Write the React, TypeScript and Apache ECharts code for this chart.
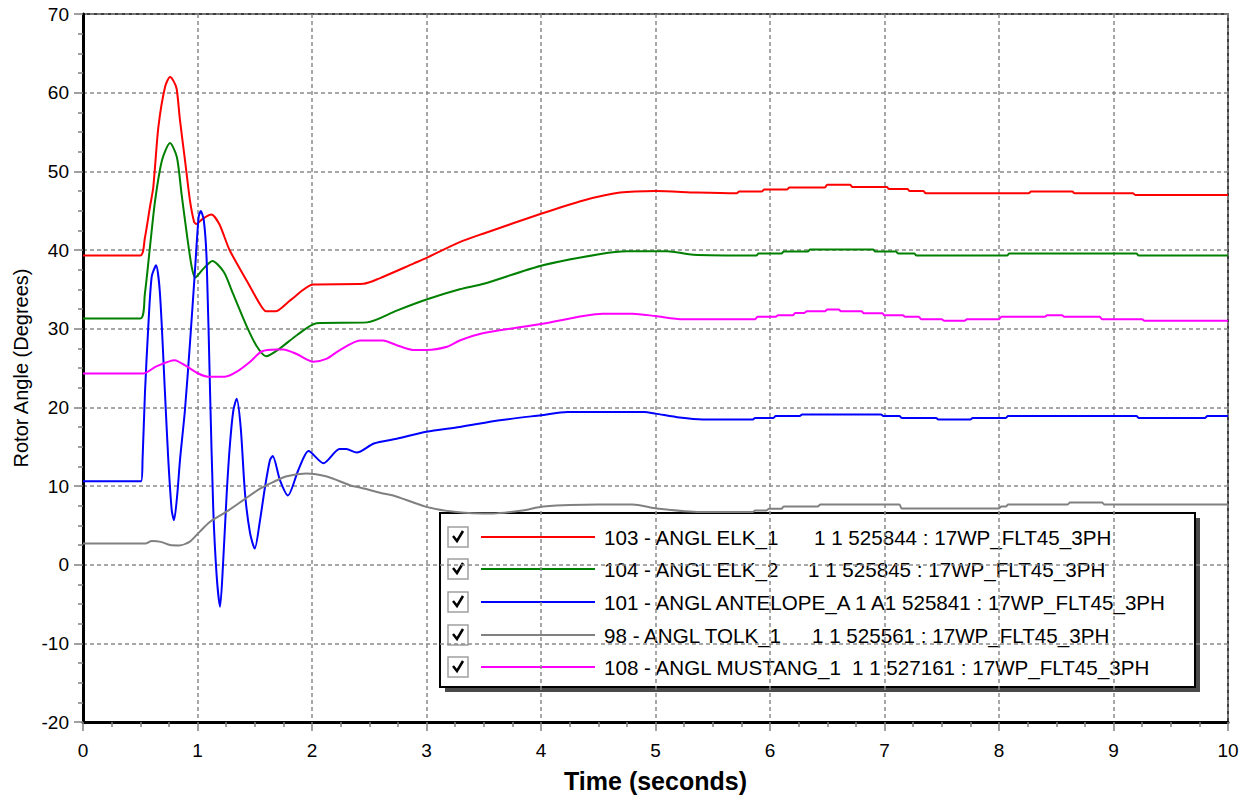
import React, { useEffect, useRef } from "react";
import * as echarts from "echarts";

type Pt = [number, number];

const xTicks = { min: 0, max: 10, interval: 1 };
const yTicks = { min: -20, max: 70, interval: 10 };

const seriesNames = [
  "103 - ANGL ELK_1      1 1 525844 : 17WP_FLT45_3PH",
  "104 - ANGL ELK_2      1 1 525845 : 17WP_FLT45_3PH",
  "101 - ANGL ANTELOPE_A 1 A1 525841 : 17WP_FLT45_3PH",
  "98 - ANGL TOLK_1      1 1 525561 : 17WP_FLT45_3PH",
  "108 - ANGL MUSTANG_1  1 1 527161 : 17WP_FLT45_3PH",
];
const legendLeft = [
  "103 - ANGL ELK_1",
  "104 - ANGL ELK_2",
  "101 - ANGL ANTELOPE_A 1 A1 525841 : 17WP_FLT45_3PH",
  "98 - ANGL TOLK_1",
  "108 - ANGL MUSTANG_1",
];
const legendRight = [
  "1 1 525844 : 17WP_FLT45_3PH",
  "1 1 525845 : 17WP_FLT45_3PH",
  "",
  "1 1 525561 : 17WP_FLT45_3PH",
  "1 1 527161 : 17WP_FLT45_3PH",
];
const legendRightX = [814, 808, 0, 812, 852];
const seriesColors = ["#ff0000", "#008000", "#0000ff", "#808080", "#ff00ff"];

const elk1: Pt[] = [
  [0, 39.3], [0.5, 39.3], [0.54, 41.5], [0.585, 45.5], [0.614, 48.0], [0.658, 55.6],
  [0.716, 60.7], [0.76, 62.0], [0.79, 61.5], [0.818, 60.5], [0.847, 56.5], [0.891, 51.4],
  [0.934, 46.3], [0.97, 43.6], [0.99, 43.3], [1.04, 43.9], [1.12, 44.5], [1.19, 43.3],
  [1.28, 40.0], [1.43, 36.1], [1.55, 33.0], [1.6, 32.2], [1.68, 32.2], [1.81, 33.6],
  [2.01, 35.6], [2.45, 35.7], [2.59, 36.4], [2.89, 38.3], [3.0, 39.0], [3.29, 41.0],
  [3.5, 42.1], [4.0, 44.6], [4.37, 46.3], [4.69, 47.3], [5.0, 47.5], [5.36, 47.3],
  [5.71, 47.2], [5.73, 47.45], [5.93, 47.45], [5.95, 47.7], [6.15, 47.7], [6.17, 47.96],
  [6.48, 47.96], [6.5, 48.3], [6.7, 48.3], [6.72, 48.0], [7.02, 48.0], [7.04, 47.75],
  [7.2, 47.75], [7.22, 47.5], [7.34, 47.5], [7.36, 47.2], [8.26, 47.2], [8.28, 47.45],
  [8.64, 47.45], [8.66, 47.2], [9.17, 47.2], [9.19, 47.0], [10, 47.0],
];

const elk2: Pt[] = [
  [0, 31.3], [0.5, 31.3], [0.54, 34.4], [0.585, 40.4], [0.63, 46.3], [0.69, 51.4],
  [0.76, 53.6], [0.82, 51.8], [0.86, 47.2], [0.906, 42.1], [0.95, 37.8], [0.98, 36.5],
  [1.05, 37.6], [1.13, 38.6], [1.23, 37.2], [1.31, 34.45], [1.43, 30.3], [1.52, 27.7],
  [1.6, 26.5], [1.72, 27.5], [1.87, 29.2], [2.04, 30.7], [2.48, 30.8], [2.74, 32.3],
  [3.0, 33.7], [3.29, 35.0], [3.5, 35.7], [4.0, 38.0], [4.52, 39.5], [4.75, 39.85],
  [5.1, 39.85], [5.33, 39.4], [5.88, 39.3], [5.9, 39.55], [6.1, 39.55], [6.12, 39.8],
  [6.33, 39.8], [6.35, 40.05], [6.9, 40.05], [6.92, 39.8], [7.1, 39.8], [7.12, 39.55],
  [7.26, 39.55], [7.28, 39.3], [8.07, 39.3], [8.09, 39.55], [9.2, 39.55], [9.22, 39.3],
  [10, 39.3],
];

const antelope: Pt[] = [
  [0, 10.6], [0.507, 10.6], [0.52, 13.3], [0.541, 21.8], [0.57, 30.2], [0.6, 36.6],
  [0.638, 38.05], [0.672, 34.5], [0.716, 21.8], [0.745, 13.3], [0.775, 6.9], [0.795, 5.65],
  [0.824, 9.05], [0.847, 13.3], [0.89, 19.6], [0.934, 28.1], [0.978, 37.4], [1.01, 44.2],
  [1.028, 44.95], [1.055, 43.8], [1.08, 38.7], [1.11, 21.8], [1.138, 6.9], [1.168, -1.55],
  [1.197, -5.35], [1.225, 0.6], [1.255, 9.05], [1.284, 15.4], [1.313, 19.6], [1.342, 21.1],
  [1.377, 17.5], [1.415, 9.05], [1.459, 4.0], [1.5, 2.05], [1.546, 5.65], [1.59, 9.9],
  [1.633, 13.3], [1.657, 13.8], [1.72, 10.75], [1.79, 8.8], [1.88, 12.0], [1.97, 14.45],
  [2.1, 12.9], [2.24, 14.7], [2.3, 14.7], [2.39, 14.25], [2.54, 15.4], [2.74, 16.0],
  [3.0, 16.9], [3.29, 17.5], [3.64, 18.35], [4.0, 19.0], [4.23, 19.4], [4.9, 19.4],
  [5.0, 19.2], [5.21, 18.7], [5.41, 18.45], [5.85, 18.45], [5.87, 18.65], [6.03, 18.65],
  [6.05, 18.9], [6.26, 18.9], [6.28, 19.1], [6.97, 19.1], [6.99, 18.9], [7.13, 18.9],
  [7.15, 18.65], [7.45, 18.65], [7.47, 18.45], [7.75, 18.45], [7.77, 18.65], [8.06, 18.65],
  [8.08, 18.9], [9.2, 18.9], [9.22, 18.65], [9.8, 18.65], [9.82, 18.9], [10, 18.9],
];

const tolk: Pt[] = [
  [0, 2.7], [0.55, 2.7], [0.6, 3.0], [0.68, 2.9], [0.76, 2.5], [0.84, 2.45], [0.93, 2.9],
  [1.02, 4.2], [1.11, 5.45], [1.25, 6.7], [1.4, 8.2], [1.55, 9.7], [1.66, 10.5],
  [1.78, 11.25], [1.95, 11.6], [2.13, 11.2], [2.33, 10.1], [2.42, 9.8], [2.62, 9.05],
  [2.71, 8.8], [3.0, 7.35], [3.26, 6.7], [3.58, 6.5], [3.84, 6.9], [4.02, 7.4], [4.5, 7.65],
  [4.8, 7.65], [5.01, 7.15], [5.39, 6.7], [5.85, 6.7], [5.87, 6.9], [5.97, 6.9], [5.99, 7.1],
  [6.1, 7.1], [6.12, 7.4], [6.42, 7.4], [6.44, 7.65], [7.13, 7.65], [7.15, 7.15], [8.0, 7.15],
  [8.02, 7.4], [8.06, 7.4], [8.08, 7.65], [8.6, 7.65], [8.62, 7.9], [8.9, 7.9], [8.92, 7.65],
  [10, 7.65],
];

const mustang: Pt[] = [
  [0, 24.3], [0.527, 24.3], [0.64, 25.2], [0.8, 26.0], [0.906, 25.2], [1.007, 24.3],
  [1.09, 23.9], [1.24, 23.9], [1.34, 24.5], [1.46, 25.8], [1.56, 27.1], [1.69, 27.35],
  [1.75, 27.35], [1.87, 26.75], [2.01, 25.8], [2.13, 26.2], [2.24, 27.25], [2.42, 28.5],
  [2.62, 28.5], [2.74, 27.9], [2.88, 27.3], [3.0, 27.3], [3.18, 27.7], [3.29, 28.5],
  [3.5, 29.45], [4.0, 30.6], [4.37, 31.6], [4.54, 31.9], [4.8, 31.9], [5.0, 31.6],
  [5.24, 31.2], [5.87, 31.2], [5.89, 31.5], [6.05, 31.5], [6.07, 31.7], [6.2, 31.7],
  [6.22, 32.0], [6.3, 32.0], [6.32, 32.2], [6.48, 32.2], [6.5, 32.45], [6.6, 32.45],
  [6.62, 32.2], [6.8, 32.2], [6.82, 31.95], [6.98, 31.95], [7.0, 31.7], [7.16, 31.7],
  [7.18, 31.5], [7.3, 31.5], [7.32, 31.2], [7.5, 31.2], [7.52, 31.0], [7.7, 31.0],
  [7.72, 31.2], [8.0, 31.2], [8.02, 31.5], [8.4, 31.5], [8.42, 31.7], [8.55, 31.7],
  [8.57, 31.5], [8.88, 31.5], [8.9, 31.2], [9.25, 31.2], [9.27, 31.0], [10, 31.0],
];

const seriesData = [elk1, elk2, antelope, tolk, mustang];

const FONT = '"Liberation Sans", Arial, Helvetica, sans-serif';

function buildLegend() {
  const rows = [537, 569, 602, 635, 667];
  const children: any[] = [
    { type: "rect", shape: { x: 445, y: 518, width: 755, height: 174 }, style: { fill: "#4a4a4a" } },
    { type: "rect", shape: { x: 440, y: 513, width: 755, height: 174 }, style: { fill: "#fff", stroke: "#000", lineWidth: 2 } },
  ];
  rows.forEach((ry, i) => {
    children.push({
      type: "rect",
      shape: { x: 448, y: ry - 10, width: 20, height: 20 },
      style: { fill: "#fff", stroke: "#a0a0a0", lineWidth: 1.5 },
    });
    children.push({
      type: "polyline",
      shape: { points: [[453, ry - 1], [457, ry + 4], [463, ry - 6]] },
      style: { stroke: "#000", lineWidth: 2.5, fill: null },
    });
    children.push({
      type: "line",
      shape: { x1: 481, y1: ry, x2: 595, y2: ry },
      style: { stroke: seriesColors[i], lineWidth: 2 },
    });
    children.push({
      type: "text",
      x: 604,
      y: ry,
      style: { text: legendLeft[i], font: `20.6px ${FONT}`, fill: "#000", verticalAlign: "middle", align: "left" },
    });
    if (legendRight[i]) {
      children.push({
        type: "text",
        x: legendRightX[i],
        y: ry,
        style: { text: legendRight[i], font: `20.6px ${FONT}`, fill: "#000", verticalAlign: "middle", align: "left" },
      });
    }
  });
  return [{ type: "group", z: 100, children }];
}

export default function App() {
  const ref = useRef<HTMLDivElement>(null);
  useEffect(() => {
    if (!ref.current) return;
    const chart = echarts.init(ref.current, undefined, { renderer: "svg" });
    const tickStyle = { color: "#808080", width: 1.5 };
    const gridStyle = { color: "#8a8a8a", type: [4, 3] as any, width: 1.5 };
    chart.setOption({
      animation: false,
      backgroundColor: "#fff",
      textStyle: { fontFamily: FONT },
      grid: { left: 83, right: 22, top: 14, bottom: 76, show: true, borderColor: "#000", borderWidth: 1.5, backgroundColor: "#fff" },
      xAxis: {
        type: "value",
        ...xTicks,
        axisLine: { onZero: false, lineStyle: { color: "#000", width: 3 } },
        axisTick: { length: 9, lineStyle: tickStyle },
        minorTick: { show: true, splitNumber: 4, length: 5, lineStyle: tickStyle },
        splitLine: { show: true, lineStyle: gridStyle },
        axisLabel: { fontSize: 19, color: "#000", margin: 19, fontFamily: FONT },
        name: "Time (seconds)",
        nameLocation: "middle",
        nameGap: 46,
        nameTextStyle: { fontSize: 25, fontWeight: "bold", color: "#000", fontFamily: FONT },
      },
      yAxis: {
        type: "value",
        ...yTicks,
        axisLine: { onZero: false, lineStyle: { color: "#000", width: 3 } },
        axisTick: { length: 9, lineStyle: tickStyle },
        minorTick: { show: true, splitNumber: 4, length: 5, lineStyle: tickStyle },
        splitLine: { show: true, lineStyle: gridStyle },
        axisLabel: { fontSize: 19, color: "#000", margin: 14, fontFamily: FONT },
        name: "Rotor Angle (Degrees)",
        nameLocation: "middle",
        nameGap: 51,
        nameTextStyle: { fontSize: 20, color: "#000", fontFamily: FONT },
      },
      series: seriesData.map((d, i) => ({
        name: seriesNames[i],
        type: "line",
        data: d,
        showSymbol: false,
        smooth: 0.25,
        lineStyle: { color: seriesColors[i], width: 2 },
        itemStyle: { color: seriesColors[i] },
      })),
      graphic: buildLegend(),
    });
    return () => chart.dispose();
  }, []);
  return (
    <div
      ref={ref}
      style={{ position: "absolute", left: 0, top: 0, width: 1250, height: 798, background: "#fff" }}
    />
  );
}
